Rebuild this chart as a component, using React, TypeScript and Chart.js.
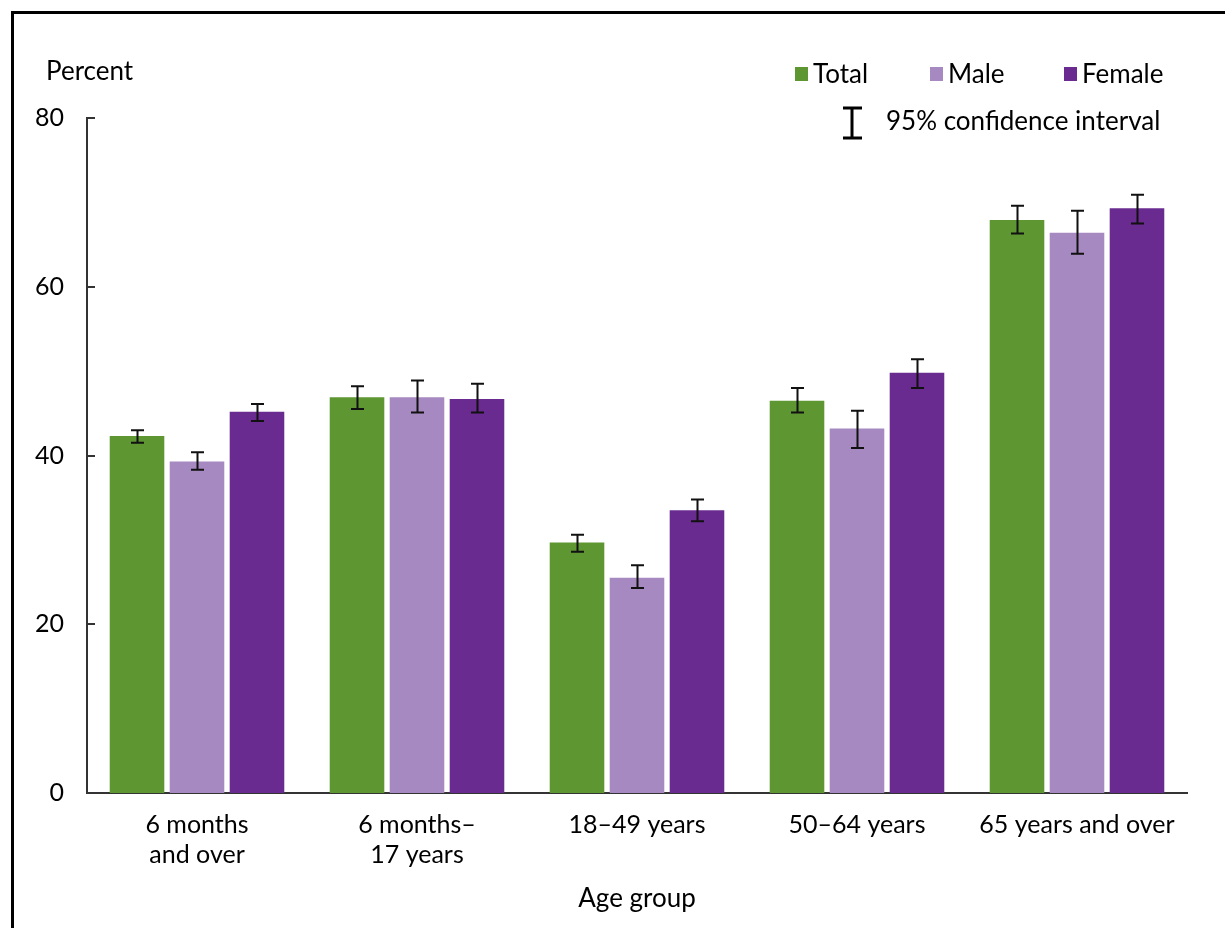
import React, { useEffect, useRef } from "react";
import { Chart, registerables } from "chart.js";

Chart.register(...registerables);

const categories: (string | string[])[] = [
  ["6 months", "and over"],
  ["6 months–", "17 years"],
  "18–49 years",
  "50–64 years",
  "65 years and over",
];
const seriesNames = ["Total", "Male", "Female"];
const seriesColors = ["#5e9632", "#a689c0", "#6a2b91"];

const totalValues = [42.3, 46.9, 29.7, 46.5, 67.9];
const maleValues = [39.3, 46.9, 25.5, 43.2, 66.4];
const femaleValues = [45.2, 46.7, 33.5, 49.8, 69.3];

const totalLow = [41.5, 45.5, 28.6, 45.1, 66.3];
const totalHigh = [43.0, 48.2, 30.6, 48.0, 69.6];
const maleLow = [38.3, 45.1, 24.3, 40.9, 63.9];
const maleHigh = [40.4, 48.9, 27.0, 45.3, 69.0];
const femaleLow = [44.1, 45.1, 32.2, 48.0, 67.5];
const femaleHigh = [46.1, 48.5, 34.8, 51.4, 70.9];

const yTicks = [0, 20, 40, 60, 80];

const FONT = "Lato, 'Open Sans', sans-serif";
const FS = 25;
const FS_TITLE = 26;

const ciLows = [totalLow, maleLow, femaleLow];
const ciHighs = [totalHigh, maleHigh, femaleHigh];

const decorPlugin = {
  id: "decor",
  beforeDraw(chart: any) {
    const ctx = chart.ctx;
    ctx.save();
    ctx.fillStyle = "#000";
    ctx.fillRect(11, 11, 3, 928);
    ctx.fillRect(11, 11, 1225, 3);
    ctx.restore();
  },
  afterDatasetsDraw(chart: any) {
    const ctx = chart.ctx;
    const ys = chart.scales.y;
    const area = chart.chartArea;
    ctx.save();
    // error bars
    ctx.strokeStyle = "#111";
    ctx.lineWidth = 2;
    chart.data.datasets.forEach((_ds: any, di: number) => {
      const meta = chart.getDatasetMeta(di);
      meta.data.forEach((bar: any, i: number) => {
        const x = Math.round(bar.x) + 0.5;
        const yl = ys.getPixelForValue(ciLows[di][i]);
        const yh = ys.getPixelForValue(ciHighs[di][i]);
        const cw = 6.5;
        ctx.beginPath();
        ctx.moveTo(x, yl);
        ctx.lineTo(x, yh);
        ctx.moveTo(x - cw, yl);
        ctx.lineTo(x + cw, yl);
        ctx.moveTo(x - cw, yh);
        ctx.lineTo(x + cw, yh);
        ctx.stroke();
      });
    });
    // inward y ticks
    ctx.strokeStyle = "#333";
    ctx.lineWidth = 2;
    yTicks.forEach((v) => {
      const y = Math.round(ys.getPixelForValue(v));
      ctx.beginPath();
      ctx.moveTo(area.left, y);
      ctx.lineTo(area.left + 8, y);
      ctx.stroke();
    });
    // titles
    ctx.fillStyle = "#000";
    ctx.font = `${FS_TITLE}px ${FONT}`;
    ctx.textBaseline = "middle";
    ctx.textAlign = "left";
    ctx.fillText("Percent", 46, 72);
    ctx.textAlign = "center";
    ctx.fillText("Age group", (area.left + area.right) / 2, 899);
    // legend
    const legendX = [795, 930, 1064];
    ctx.textAlign = "left";
    seriesNames.forEach((name, i) => {
      ctx.fillStyle = seriesColors[i];
      ctx.fillRect(legendX[i], 67, 13, 14);
      ctx.fillStyle = "#000";
      ctx.fillText(name, legendX[i] + 18, 75);
    });
    // CI legend symbol
    ctx.strokeStyle = "#000";
    ctx.lineWidth = 3;
    ctx.beginPath();
    ctx.moveTo(852, 108);
    ctx.lineTo(852, 138);
    ctx.moveTo(843, 108);
    ctx.lineTo(862, 108);
    ctx.moveTo(843, 138);
    ctx.lineTo(862, 138);
    ctx.stroke();
    ctx.fillText("95% confidence interval", 886, 122);
    ctx.restore();
  },
};

export default function App() {
  const ref = useRef<HTMLCanvasElement | null>(null);
  useEffect(() => {
    if (!ref.current) return;
    const chart = new Chart(ref.current, {
      type: "bar",
      data: {
        labels: categories,
        datasets: [
          { label: seriesNames[0], data: totalValues, backgroundColor: seriesColors[0] },
          { label: seriesNames[1], data: maleValues, backgroundColor: seriesColors[1] },
          { label: seriesNames[2], data: femaleValues, backgroundColor: seriesColors[2] },
        ],
      },
      options: {
        responsive: false,
        maintainAspectRatio: false,
        animation: false,
        layout: { padding: { left: 0, top: 118, right: 38, bottom: 0 } },
        datasets: {
          bar: { categoryPercentage: 0.818, barPercentage: 0.91 },
        },
        plugins: {
          legend: { display: false },
          tooltip: { enabled: false },
        },
        scales: {
          x: {
            grid: { display: false, drawTicks: false },
            border: { display: true, color: "#333", width: 2 },
            ticks: {
              color: "#000",
              padding: 17,
              font: { family: FONT, size: FS, lineHeight: 1.2 },
              maxRotation: 0,
              autoSkip: false,
            },
            afterFit: (s: any) => {
              s.height = 928 - 793;
            },
          },
          y: {
            min: 0,
            max: 80,
            grid: { display: false, drawTicks: false },
            border: { display: true, color: "#333", width: 2 },
            ticks: {
              stepSize: 20,
              color: "#000",
              padding: 23,
              font: { family: FONT, size: FS },
            },
            afterFit: (s: any) => {
              s.width = 87;
            },
          },
        },
      },
      plugins: [decorPlugin],
    } as any);
    return () => chart.destroy();
  }, []);
  return (
    <div style={{ position: "fixed", left: 0, top: 0, width: 1225, height: 928, background: "#fff" }}>
      <canvas ref={ref} width={1225} height={928} style={{ width: 1225, height: 928, display: "block" }} />
    </div>
  );
}
